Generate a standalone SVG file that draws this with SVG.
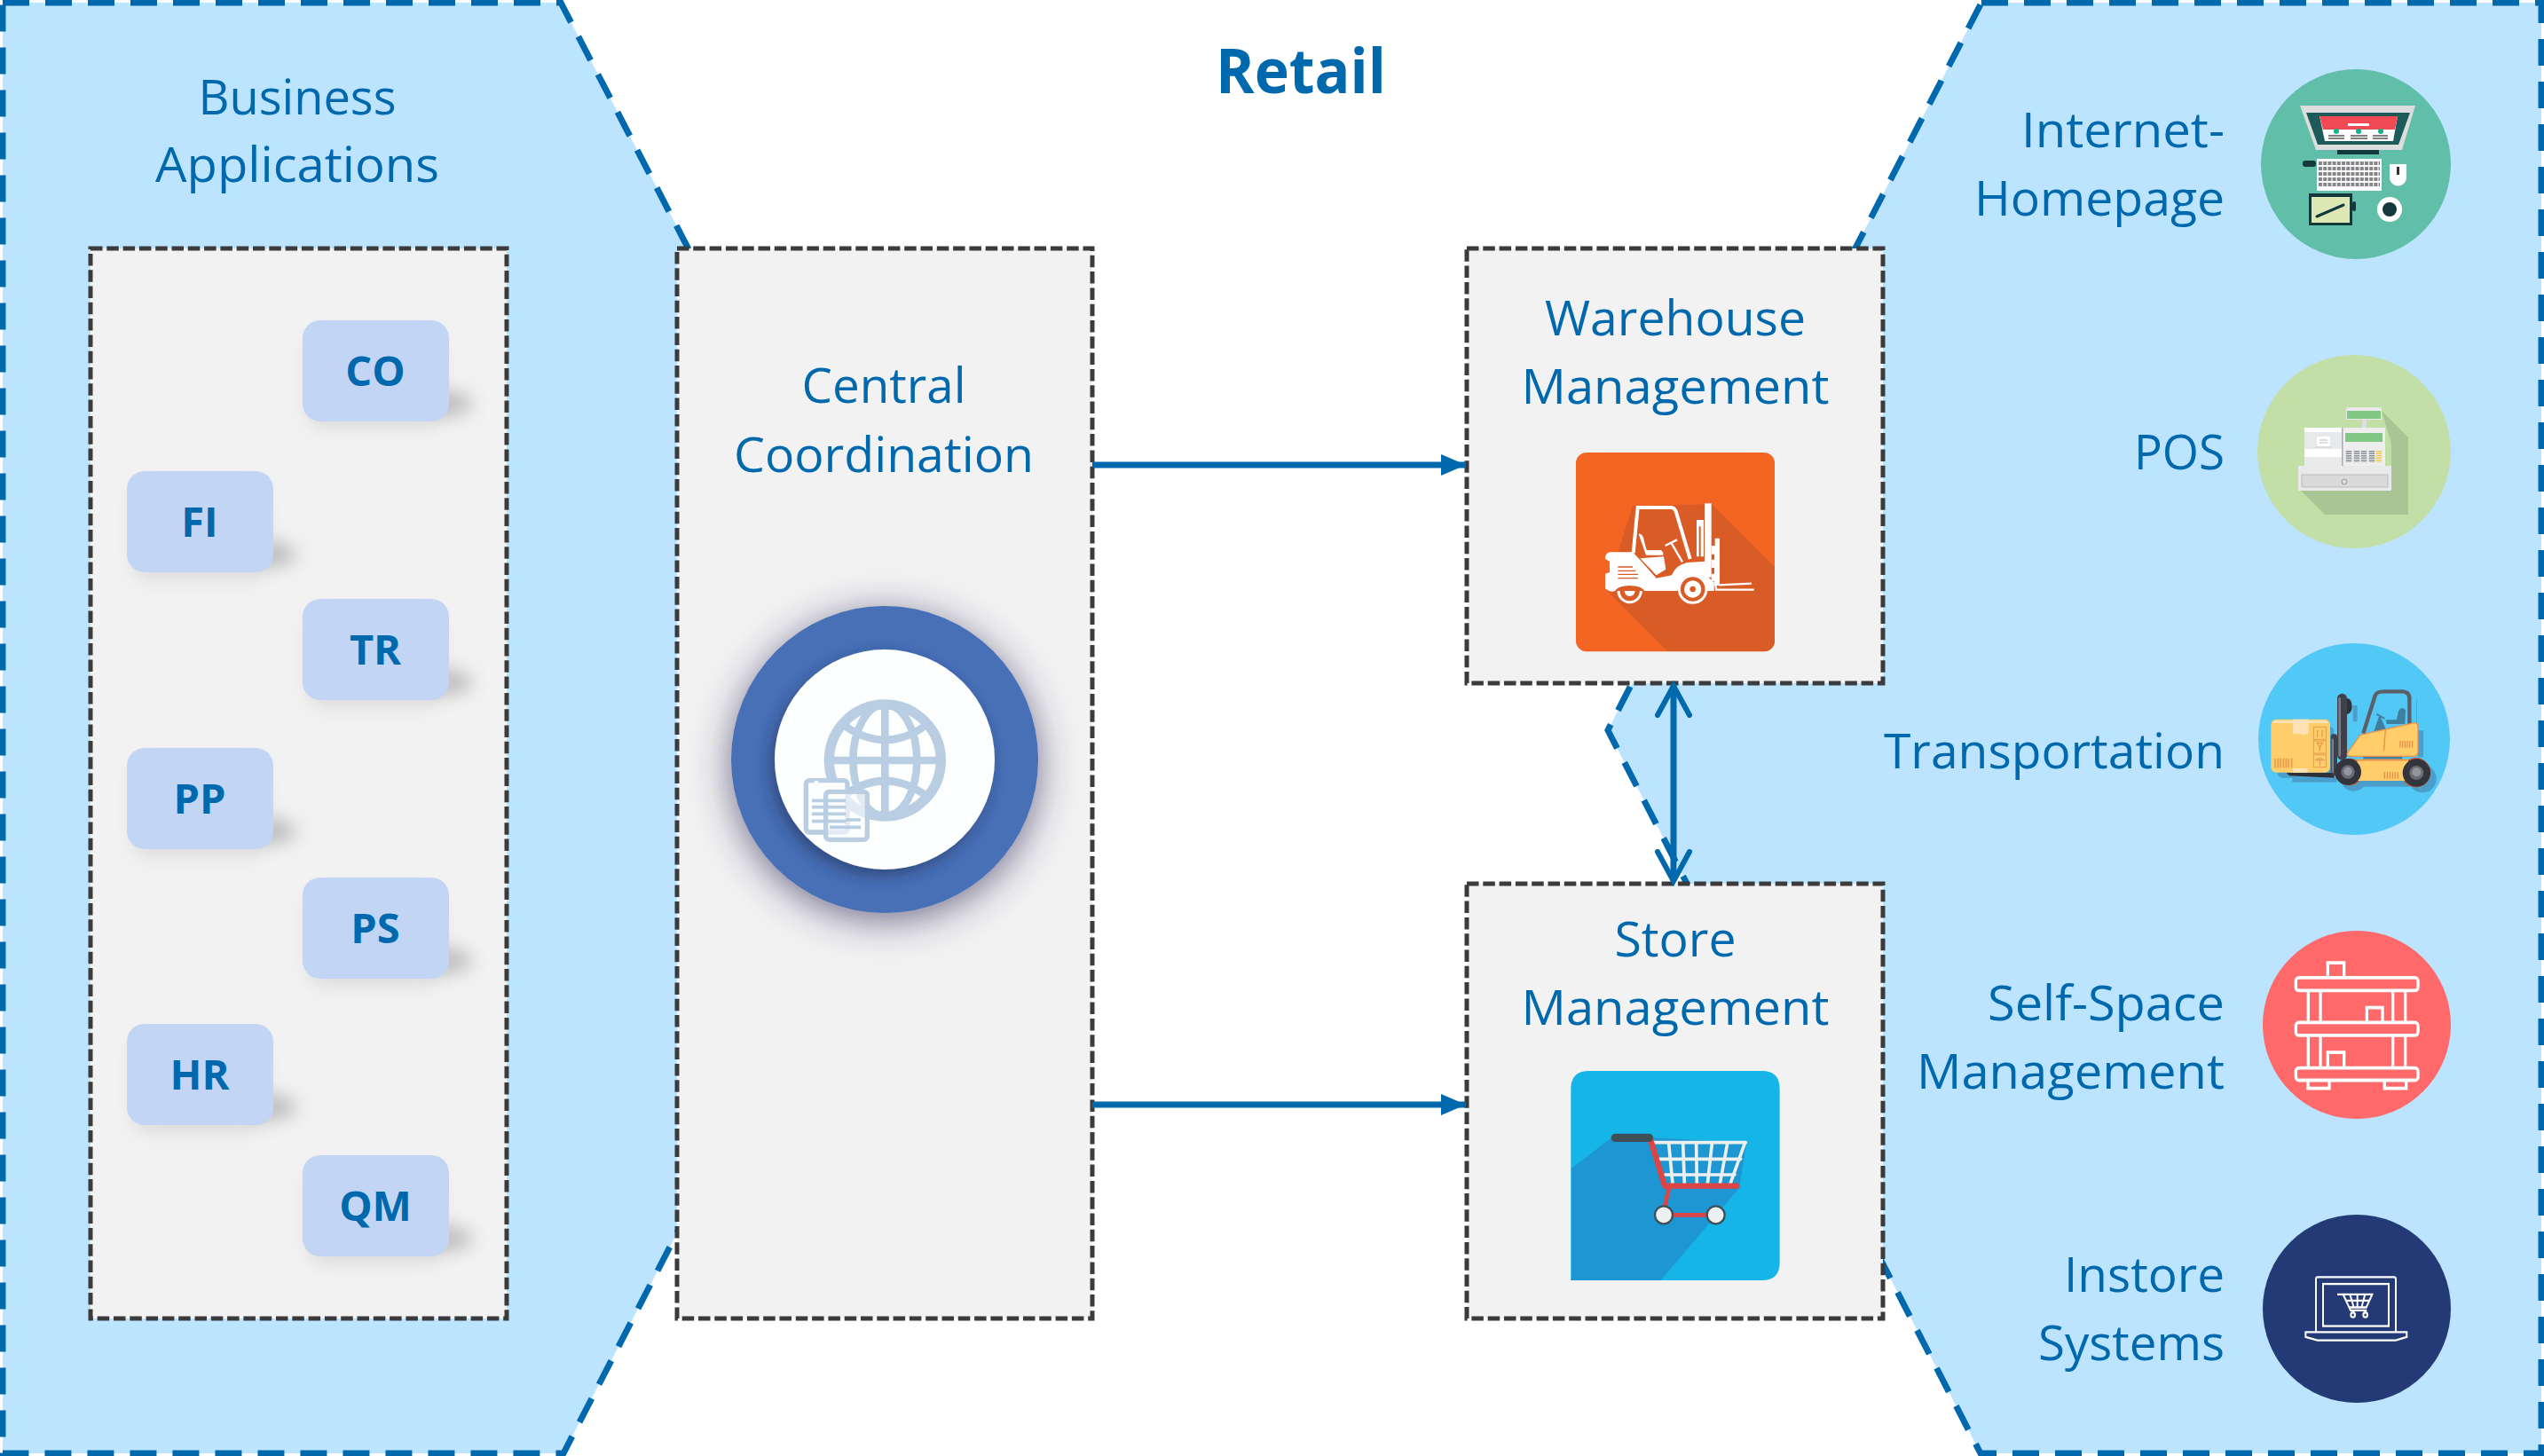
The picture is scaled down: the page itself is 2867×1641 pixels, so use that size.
<svg xmlns="http://www.w3.org/2000/svg" width="2867" height="1641" viewBox="0 0 2867 1641">
<style>
.t{font-family:"Open Sans","Noto Sans","Liberation Sans",sans-serif;font-size:55.5px;fill:#0069AE}
.m{text-anchor:middle}.e{text-anchor:end}
.c{font-family:"Open Sans","Noto Sans","Liberation Sans",sans-serif;font-size:47px;font-weight:700;fill:#0069AE;text-anchor:middle}
.panel{fill:#BDE4FF;stroke:#0069AE;stroke-width:7;stroke-dasharray:30 18}
.box{fill:#F2F2F2;stroke:#3B3B3B;stroke-width:5;stroke-dasharray:13.5 4.8}
.chip{fill:#C3D5F5}
.flow{fill:none;stroke:#0069AE;stroke-width:7}
</style>
<defs>
<marker id="tri" markerUnits="userSpaceOnUse" markerWidth="30" markerHeight="26" refX="28" refY="13" orient="auto"><path d="M0,1 L28,13 L0,25 Z" fill="#0069AE"/></marker>
<marker id="open" markerUnits="userSpaceOnUse" markerWidth="44" markerHeight="50" refX="36" refY="22" orient="auto-start-reverse"><path d="M3,4 L36,22 L3,40" fill="none" stroke="#0069AE" stroke-width="6" stroke-linecap="round"/></marker>
<filter id="blur" x="-80%" y="-100%" width="260%" height="300%"><feGaussianBlur stdDeviation="10"/></filter>
<filter id="ds1" x="-40%" y="-40%" width="180%" height="180%"><feDropShadow dx="0" dy="8" stdDeviation="22" flood-color="#3A3560" flood-opacity=".7"/></filter>
<filter id="ds2" x="-30%" y="-30%" width="160%" height="160%"><feDropShadow dx="-5" dy="7" stdDeviation="9" flood-color="#1E2C50" flood-opacity=".55"/></filter>
<g id="chipShape">
<ellipse cx="165" cy="94" rx="26" ry="14" fill="#777" opacity=".42" filter="url(#blur)"/>
<rect x="6" y="14" width="150" height="108" rx="18" fill="#999" opacity=".25" filter="url(#blur)"/>
<rect width="165" height="114" rx="20" class="chip"/>
</g>
<clipPath id="wc"><rect x="108" y="60" width="672" height="673" rx="36"/></clipPath>
<clipPath id="sc"><path d="M91,114 Q91,54 151,54 H737 Q797,54 797,114 V702 Q797,762 737,762 H91 Z"/></clipPath>
</defs>

<g id="panels">
<path class="panel" d="M3,3 H632 L1056,821 L635,1638 H3 Z"/>
<path class="panel" d="M2233,3 H2864 V1638 H2232 L1812,823 Z"/>
</g>

<text id="title" x="1466" y="105" class="t m" style="font-size:70px;font-weight:700" textLength="192" lengthAdjust="spacingAndGlyphs">Retail</text>

<g id="business-applications">
<text x="335" y="129" class="t m" textLength="223" lengthAdjust="spacingAndGlyphs">Business</text>
<text x="335" y="205" class="t m" textLength="320" lengthAdjust="spacingAndGlyphs">Applications</text>
<rect x="102" y="280" width="469" height="1206" class="box"/>
</g>
<g id="chip-co"><use href="#chipShape" x="341" y="361"/><text x="423" y="435" class="c">CO</text></g>
<g id="chip-fi"><use href="#chipShape" x="143" y="531"/><text x="225" y="605" class="c">FI</text></g>
<g id="chip-tr"><use href="#chipShape" x="341" y="675"/><text x="423" y="749" class="c">TR</text></g>
<g id="chip-pp"><use href="#chipShape" x="143" y="843"/><text x="225" y="917" class="c">PP</text></g>
<g id="chip-ps"><use href="#chipShape" x="341" y="989"/><text x="423" y="1063" class="c">PS</text></g>
<g id="chip-hr"><use href="#chipShape" x="143" y="1154"/><text x="225" y="1228" class="c">HR</text></g>
<g id="chip-qm"><use href="#chipShape" x="341" y="1302"/><text x="423" y="1376" class="c">QM</text></g>

<g id="central-coordination">
<rect x="763" y="280" width="468" height="1206" class="box"/>
<text x="996" y="454" class="t m" textLength="185" lengthAdjust="spacingAndGlyphs">Central</text>
<text x="996" y="532" class="t m" textLength="338" lengthAdjust="spacingAndGlyphs">Coordination</text>
<circle cx="997" cy="856" r="173" fill="#4770B7" filter="url(#ds1)"/>
<circle cx="997" cy="856" r="124" fill="#FDFFFE" filter="url(#ds2)"/>
<g transform="translate(790 659) scale(.33333)" fill="none" stroke="#B9CDE3">
<circle cx="622" cy="594" r="189" stroke-width="34"/>
<ellipse cx="622" cy="594" rx="108" ry="189" stroke-width="26"/>
<path d="M622,405 V783 M433,594 H811" stroke-width="26"/>
<path d="M490,480 Q622,570 754,480 M490,708 Q622,618 754,708" stroke-width="26"/>
<rect x="355" y="662" width="140" height="175" rx="12" fill="#FDFFFE" stroke-width="16"/>
<rect x="422" y="700" width="140" height="162" rx="12" fill="#FDFFFE" stroke-width="16" fill-opacity=".6"/>
<path d="M375,730 H490 M375,752 H490 M375,775 H490 M375,800 H490 M435,820 H540 M490,795 H540" stroke-width="11"/>
<circle cx="390" cy="670" r="8" fill="#FDFFFE" stroke="none"/>
</g>
</g>

<g id="warehouse-management">
<rect x="1653" y="280" width="469" height="490" class="box"/>
<text x="1888" y="378" class="t m" textLength="294" lengthAdjust="spacingAndGlyphs">Warehouse</text>
<text x="1888" y="455" class="t m" textLength="347" lengthAdjust="spacingAndGlyphs">Management</text>
<g transform="translate(1740 490) scale(.33333)">
<rect x="108" y="60" width="672" height="673" rx="36" fill="#F46524"/>
<path clip-path="url(#wc)" d="M566,235 L780,447 V733 H418 L210,525 L300,240 Z" fill="#D95B26"/>
<g fill="#fff">
<path d="M207,420 Q207,398 225,397 L300,397 L322,420 L380,485 L432,475 Q445,440 485,432 L545,428 L545,470 L575,500 L575,528 L552,528 Q548,474 503,474 Q456,474 452,528 L340,528 Q330,510 290,510 Q250,510 240,528 Q225,535 207,520 V470 L222,465 V428 L207,420 Z"/>
<path d="M320,335 Q335,332 340,365 L347,390 L395,390 Q405,395 403,407 L345,407 Z"/>
<path d="M325,418 L405,412 L412,455 L380,475 Z"/>
<rect x="543" y="232" width="23" height="250"/>
<path d="M516,288 H540 V412 H516 Z M524,310 V412 H530 V310 Z" fill-rule="evenodd"/>
<path d="M566,375 H578 V350 H594 V510 H575 V495 H566 V470 H576 V450 H566 V422 H576 V404 H566 Z"/>
</g>
<path d="M302,400 L317,246 H430 Q442,246 447,262 L494,420" fill="none" stroke="#fff" stroke-width="12"/>
<path d="M410,375 L450,355 M430,365 L468,430" fill="none" stroke="#fff" stroke-width="7"/>
<path d="M250,447 H300 M250,460 H310 M250,472 H318 M250,485 H318" stroke="#D95B26" stroke-width="4"/>
<path d="M580,505 L582,524 H710 M592,508 L702,503" fill="none" stroke="#fff" stroke-width="7"/>
<circle cx="503" cy="522" r="46" fill="#D95B26" stroke="#fff" stroke-width="9"/>
<circle cx="503" cy="522" r="29" fill="#fff"/><circle cx="503" cy="522" r="10" fill="#D95B26"/>
<path d="M252,528 A38,38 0 0 0 328,528" fill="#D95B26" stroke="#fff" stroke-width="9"/>
<path d="M272,528 A18,18 0 0 0 308,528 Z" fill="#fff"/>
</g>
</g>

<g id="store-management">
<rect x="1653" y="996" width="469" height="490" class="box"/>
<text x="1888" y="1078" class="t m" textLength="137" lengthAdjust="spacingAndGlyphs">Store</text>
<text x="1888" y="1155" class="t m" textLength="347" lengthAdjust="spacingAndGlyphs">Management</text>
<g transform="translate(1740 1189) scale(.33333)">
<path d="M91,114 Q91,54 151,54 H737 Q797,54 797,114 V702 Q797,762 737,762 H91 Z" fill="#16B5E8"/>
<path clip-path="url(#sc)" d="M230,278 L91,385 V762 H395 L660,450 L685,296 L360,280 Z" fill="#1E96D2"/>
<path d="M362,296 H682 M390,352 H665 M410,405 H645 M422,300 L435,435 M470,300 L475,435 M515,300 L517,435 M568,300 L553,435 M620,300 L595,435 M680,296 L630,435" fill="none" stroke="#ECF0F1" stroke-width="11" stroke-linecap="round"/>
<path d="M360,285 L408,443 H652" fill="none" stroke="#DD4445" stroke-width="19" stroke-linecap="round" stroke-linejoin="round"/>
<path d="M423,450 L405,525 M405,541 H581" fill="none" stroke="#DD4445" stroke-width="14"/>
<rect x="227" y="266" width="142" height="28" rx="14" fill="#3F4F57"/>
<circle cx="405" cy="541" r="30" fill="#ECF0F1" stroke="#3F4F57" stroke-width="7"/>
<circle cx="581" cy="541" r="30" fill="#ECF0F1" stroke="#3F4F57" stroke-width="7"/>
</g>
</g>

<g id="connectors">
<line x1="1231" y1="524" x2="1652" y2="524" class="flow" marker-end="url(#tri)"/>
<line x1="1231" y1="1245" x2="1652" y2="1245" class="flow" marker-end="url(#tri)"/>
<line x1="1886" y1="773" x2="1886" y2="993" class="flow" marker-start="url(#open)" marker-end="url(#open)"/>
</g>

<g id="internet-homepage">
<text x="2507" y="166" class="t e" textLength="229" lengthAdjust="spacingAndGlyphs">Internet-</text>
<text x="2507" y="243" class="t e" textLength="282" lengthAdjust="spacingAndGlyphs">Homepage</text>
<circle cx="2655" cy="185" r="107" fill="#61BEA9"/>
<path d="M2592,119 H2722 L2707,169 H2610 Z" fill="#DDDDDD"/>
<path d="M2599,127 H2716 L2703,163 H2612 Z" fill="#1D5A5A"/>
<path d="M2614,131 H2702 L2697,159 H2620 Z" fill="#fff"/>
<path d="M2614,131 H2702 L2699,146 H2618 Z" fill="#F04B55"/>
<rect x="2646" y="139" width="24" height="3" fill="#fff"/>
<circle cx="2633" cy="148" r="3" fill="#17B08E"/><circle cx="2658" cy="148" r="3" fill="#17B08E"/><circle cx="2683" cy="148" r="3" fill="#17B08E"/>
<path d="M2624,153 H2642 M2624,156 H2642 M2649,153 H2668 M2649,156 H2668 M2674,153 H2691 M2674,156 H2691" stroke="#555" stroke-width="1.5"/>
<rect x="2634" y="169" width="47" height="5" fill="#12393B"/>
<rect x="2611" y="179" width="73" height="36" fill="#fff"/>
<path d="M2613,184 H2682 M2613,190 H2682 M2613,196 H2682 M2613,202 H2682 M2613,208 H2682" stroke="#85858A" stroke-width="4" stroke-dasharray="4 1.2"/>
<rect x="2595" y="181" width="15" height="7" rx="3" fill="#12393B"/>
<path d="M2693,185 H2712 V200 A9.5,9.5 0 0 1 2693,200 Z" fill="#fff"/>
<rect x="2701" y="188" width="3" height="9" fill="#333"/>
<rect x="2602" y="218" width="49" height="36" fill="#12393B"/>
<rect x="2651" y="227" width="4" height="11" rx="2" fill="#12393B"/>
<rect x="2605" y="222" width="43" height="29" fill="#DDE8B5"/>
<path d="M2611,244 L2641,231" stroke="#12393B" stroke-width="3" stroke-linecap="round"/>
<circle cx="2693" cy="236" r="14" fill="#fff"/><circle cx="2693" cy="236" r="8" fill="#12393B"/>
</g>

<g id="pos">
<text x="2507" y="529" class="t e" textLength="102" lengthAdjust="spacingAndGlyphs">POS</text>
<circle cx="2653" cy="509" r="109" fill="#C3DFA8"/>
<path d="M2684,463 L2714,493 V580 H2620 L2593,553 H2695 V500 Z" fill="#A9C596"/>
<rect x="2644" y="459" width="40" height="14" fill="#E8E8E8"/>
<rect x="2645" y="463" width="38" height="9" fill="#82C784"/>
<rect x="2662" y="473" width="5" height="9" fill="#DDD"/>
<rect x="2597" y="482" width="42" height="50" fill="#E8E9EB"/>
<rect x="2597" y="482" width="42" height="5" fill="#fff"/>
<rect x="2597" y="506" width="42" height="9" fill="#fff"/>
<rect x="2640" y="482" width="48" height="50" fill="#EEEEEE"/>
<rect x="2639" y="482" width="1.5" height="50" fill="#AAA"/>
<rect x="2611" y="492" width="15" height="13" fill="#fff"/>
<path d="M2614,496 H2623 M2614,499 H2623 M2610,504 H2627" stroke="#BBB" stroke-width="1"/>
<rect x="2643" y="488" width="42" height="10" fill="#82C784"/>
<g stroke-width="6.5" fill="none" stroke-dasharray="1.5 1"><path d="M2647,508 V521 M2656,508 V521 M2664,508 V521 M2673,508 V521" stroke="#8A8F95"/><path d="M2681,508 V521" stroke="#F2C94C"/></g>
<rect x="2597" y="525" width="91" height="8" fill="#DCDCDC"/>
<rect x="2590" y="525" width="105" height="28" fill="#E9E9E9"/>
<rect x="2594" y="535" width="97" height="14" fill="#DADADA" stroke="#BDBDBD"/>
<circle cx="2642" cy="543" r="3" fill="none" stroke="#999"/>
</g>

<g id="transportation">
<text x="2507" y="866" class="t e" textLength="384" lengthAdjust="spacingAndGlyphs">Transportation</text>
<circle cx="2653" cy="833" r="108" fill="#52C8F7"/>
<g transform="translate(2480 680) scale(.33333)">
<g fill="#4B9EC9">
<rect x="260" y="415" width="190" height="175" rx="18"/>
<path d="M310,590 H460 V605 H310 Z M515,345 H530 V400 H515 Z M730,320 H732 V420 H730 Z M735,430 H753 V520 H735 Z"/>
<circle cx="518" cy="590" r="45"/><circle cx="750" cy="593" r="47"/>
<rect x="530" y="600" width="200" height="20"/>
</g>
<rect x="238" y="392" width="200" height="180" rx="18" fill="#FFCD69"/>
<path d="M243,405 Q245,396 258,396 H418 Q430,396 433,405 Z" fill="#FFE2B5"/>
<path d="M312,392 H365 V440 L350,445 L335,440 L312,442 Z" fill="#FFE2B5"/>
<rect x="312" y="558" width="50" height="14" fill="#FFE2B5"/>
<g fill="none" stroke="#E89A50" stroke-width="3"><rect x="382" y="418" width="42" height="42"/><rect x="382" y="465" width="42" height="42"/><rect x="382" y="512" width="42" height="42"/></g>
<path d="M252,524 V556 M262,524 V556 M270,524 V556 M280,524 V556 M289,524 V556 M297,524 V556 M308,524 V556" stroke="#E89A50" stroke-width="5"/>
<path d="M395,428 V452 M411,428 V452 M394,472 H412 L403,486 Z M403,486 V500 M390,530 Q403,518 416,530 Z M403,530 V548" stroke="#E89A50" stroke-width="4" fill="none"/>
<path d="M290,573 H452 V590 L300,583 Z" fill="#2F3138"/>
<path d="M495,322 H500 Q512,330 512,350 Q512,370 495,375 Z" fill="#2F3138"/>
<rect x="462" y="305" width="33" height="225" rx="16" fill="#3E414B"/>
<rect x="466" y="318" width="8" height="200" rx="4" fill="#7A7D86"/>
<rect x="440" y="442" width="22" height="140" rx="10" fill="#3E414B"/>
<rect x="443" y="458" width="7" height="115" fill="#7A7D86"/>
<path d="M550,440 L590,312 Q595,298 620,298 H680 Q706,298 706,322 V410" fill="none" stroke="#5C5F68" stroke-width="13"/>
<path d="M595,375 L622,390 M605,385 L590,430 H625 Z M630,397 H665 L672,365 Q680,350 690,362 L688,405 H632 Z" fill="#3F7F9F" stroke="#3F7F9F" stroke-width="6"/>
<rect x="550" y="515" width="132" height="14" fill="#3F7F9F"/>
<path d="M497,505 L540,445 L722,404 Q735,402 735,420 V500 Q735,517 720,517 H510 Q490,517 497,505 Z" fill="#FFCD69" stroke="#E8914C" stroke-width="4"/>
<path d="M625,425 L620,498" stroke="#E8914C" stroke-width="4"/>
<path d="M675,465 V488 M683,465 V488 M691,465 V488 M699,465 V488 M707,465 V488 M716,465 V488" stroke="#E8914C" stroke-width="4"/>
<circle cx="503" cy="570" r="46" fill="#D0522C"/><circle cx="728" cy="572" r="50" fill="#D0522C"/>
<rect x="530" y="527" width="172" height="73" fill="#FFCD69"/>
<path d="M530,530 H700" stroke="#E8914C" stroke-width="5"/>
<path d="M622,570 V593 M631,570 V593 M640,570 V593 M649,570 V593 M658,570 V593 M667,570 V593" stroke="#E8914C" stroke-width="4"/>
<circle cx="498" cy="570" r="45" fill="#33343C"/><circle cx="498" cy="570" r="23" fill="#6A6C75"/><circle cx="498" cy="568" r="14" fill="#94969E"/>
<circle cx="730" cy="573" r="47" fill="#33343C"/><circle cx="730" cy="573" r="24" fill="#6A6C75"/><circle cx="730" cy="571" r="15" fill="#94969E"/>
</g>
</g>

<g id="self-space-management">
<text x="2507" y="1150" class="t e" textLength="267" lengthAdjust="spacingAndGlyphs">Self-Space</text>
<text x="2507" y="1227" class="t e" textLength="347" lengthAdjust="spacingAndGlyphs">Management</text>
<circle cx="2656" cy="1155" r="106" fill="#FF6969"/>
<g transform="translate(2480 1020) scale(.33333 .38270)" fill="none" stroke="#fff" stroke-width="10">
<rect x="322" y="214" width="413" height="38" rx="10"/><rect x="322" y="346" width="413" height="38" rx="10"/><rect x="322" y="480" width="413" height="36" rx="10"/>
<path d="M364,252 V346 M405,252 V346 M364,384 V480 M405,384 V480 M650,252 V346 M692,252 V346 M650,384 V480 M692,384 V480"/>
<path d="M430,214 V170 H485 V214 M562,346 V302 H615 V346 M430,480 V434 H485 V480 M363,516 V540 H435 V516 M622,516 V540 H695 V516"/>
</g>
</g>

<g id="instore-systems">
<text x="2507" y="1456" class="t e" textLength="181" lengthAdjust="spacingAndGlyphs">Instore</text>
<text x="2507" y="1533" class="t e" textLength="210" lengthAdjust="spacingAndGlyphs">Systems</text>
<circle cx="2656" cy="1475" r="106" fill="#243A76"/>
<g transform="translate(2480 1020) scale(.33333 .38270)" fill="none" stroke="#fff" stroke-width="6">
<path d="M390,1258 V1102 Q390,1096 396,1096 H654 Q660,1096 660,1102 V1258"/>
<rect x="414" y="1116" width="222" height="124"/>
<path d="M355,1258 H697 V1272 L660,1282 H395 L355,1272 Z"/>
<path d="M462,1147 H482 L507,1194 H562 M482,1147 H580 L560,1185 H503 M490,1165 H572 M505,1147 L518,1185 M530,1147 V1185 M556,1147 L544,1185"/>
<circle cx="515" cy="1207" r="7"/><circle cx="557" cy="1207" r="7"/>
</g>
</g>
</svg>
